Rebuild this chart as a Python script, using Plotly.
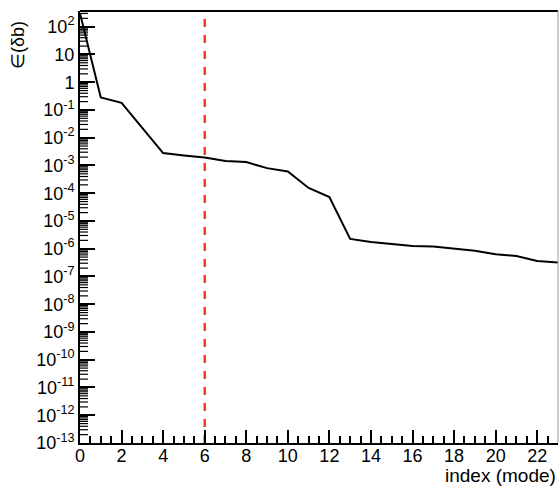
import plotly.graph_objects as go

# mode index and the corresponding error estimate
mode_index = list(range(24))
eps_values = [
    3.0e2, 2.8e-1, 1.8e-1, 2.2e-2, 2.8e-3, 2.3e-3, 1.94e-3, 1.44e-3,
    1.32e-3, 8.0e-4, 6.1e-4, 1.54e-4, 7.3e-5, 2.25e-6, 1.76e-6, 1.49e-6,
    1.26e-6, 1.19e-6, 1.0e-6, 8.5e-7, 6.3e-7, 5.5e-7, 3.6e-7, 3.2e-7,
]

# cut position (vertical marker)
cut_x = [6, 6]
cut_y = [1e-13, 190]

# decade tick labels on the log axis
y_exponents = list(range(-13, 3))
y_tickvals = [10.0 ** e for e in y_exponents]
y_ticktext = []
for e in y_exponents:
    if e == 0:
        y_ticktext.append("1")
    elif e == 1:
        y_ticktext.append("10")
    else:
        y_ticktext.append("10<sup>%d</sup>" % e)

# sub-decade (2..9) minor tick positions
y_minorvals = [k * 10.0 ** e for e in range(-13, 3) for k in range(2, 10)]

FONT = "Liberation Sans, Arial, Helvetica, sans-serif"
Y_RANGE = [-13, 2.565]
PLOT_W = 560 - 80 - 2          # plot-area width in px
MINOR_LEN_PX = 8

fig = go.Figure()
fig.add_trace(go.Scatter(
    x=mode_index, y=eps_values, mode="lines",
    line=dict(color="black", width=2), showlegend=False, hoverinfo="skip",
))
fig.add_trace(go.Scatter(
    x=cut_x, y=cut_y, mode="lines",
    line=dict(color="#ff3a1e", width=2.5, dash="8px,8px"),
    showlegend=False, hoverinfo="skip",
))

# short inward ticks at the sub-decade positions of the log axis
minor_shapes = [
    dict(type="line", xref="x domain", yref="y",
         x0=0, x1=MINOR_LEN_PX / PLOT_W, y0=v, y1=v,
         line=dict(color="black", width=1.2))
    for v in y_minorvals
]

frame_shapes = [
    dict(type="line", xref="paper", yref="paper", x0=0, x1=1, y0=1, y1=1,
         line=dict(color="black", width=2)),
    dict(type="line", xref="paper", yref="paper", x0=1, x1=1, y0=0, y1=1,
         line=dict(color="#999999", width=1)),
]

fig.update_layout(
    width=560, height=487,
    margin=dict(l=80, r=2, t=11, b=44),
    paper_bgcolor="white", plot_bgcolor="white",
    font=dict(family=FONT, size=18, color="black"),
    xaxis=dict(
        range=[0, 23], dtick=2, tick0=0,
        ticks="inside", ticklen=13, tickwidth=1.5, tickcolor="black",
        showline=True, linewidth=2, linecolor="black", mirror=False,
        showgrid=False, zeroline=False,
        tickfont=dict(size=18), ticklabelstandoff=-5,
        minor=dict(dtick=0.5, ticks="inside", ticklen=7, tickwidth=1.5,
                   tickcolor="black", showgrid=False),
    ),
    yaxis=dict(
        type="log", range=Y_RANGE,
        tickmode="array", tickvals=y_tickvals, ticktext=y_ticktext,
        ticks="inside", ticklen=15, tickwidth=1.5, tickcolor="black",
        showline=True, linewidth=2, linecolor="black",
        showgrid=False, zeroline=False,
        tickfont=dict(size=18),
    ),
    shapes=minor_shapes + frame_shapes,
    annotations=[
        dict(text="index (mode)", xref="paper", yref="paper", x=1.0, y=0,
             xanchor="right", yanchor="top", yshift=-20, showarrow=False,
             font=dict(size=19)),
        dict(text="\u2208(\u03b4b)", xref="paper", yref="paper", x=0, y=1,
             xanchor="right", yanchor="top", xshift=-50, yshift=-8,
             textangle=-90, showarrow=False, font=dict(size=18)),
    ],
)

fig.write_html("out.html")
